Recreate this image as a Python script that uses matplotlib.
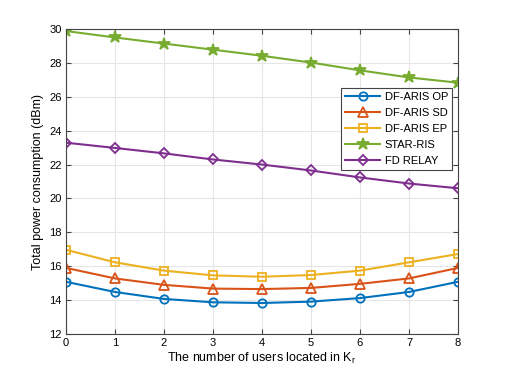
import matplotlib
matplotlib.use("Agg")
import matplotlib.pyplot as plt

plt.rcParams['font.family'] = ['Liberation Sans', 'DejaVu Sans']
plt.rcParams['mathtext.fontset'] = 'custom'
plt.rcParams['mathtext.rm'] = 'Liberation Sans'
plt.rcParams['mathtext.it'] = 'Liberation Sans'

x = [0, 1, 2, 3, 4, 5, 6, 7, 8]
op = [15.08, 14.48, 14.07, 13.87, 13.83, 13.91, 14.12, 14.48, 15.08]
sd = [15.9, 15.28, 14.9, 14.68, 14.65, 14.72, 14.96, 15.28, 15.9]
ep = [16.97, 16.23, 15.74, 15.46, 15.38, 15.48, 15.74, 16.23, 16.72]
star = [29.88, 29.5, 29.14, 28.78, 28.42, 28.02, 27.56, 27.14, 26.83]
fd = [23.29, 22.98, 22.66, 22.3, 22.0, 21.65, 21.24, 20.88, 20.6]
labels = ['DF-ARIS OP', 'DF-ARIS SD', 'DF-ARIS EP', 'STAR-RIS', 'FD RELAY']
colors = ['#0072BD', '#D95319', '#EDB120', '#77AC30', '#7E2F8E']
markers = ['o', '^', 's', '*', 'D']
msizes = [6, 6.5, 6, 9, 5.5]

fig = plt.figure(figsize=(5.06, 3.79), dpi=100)
ax = fig.add_axes([66/506, 1-334/379, (458-66)/506, (334-29)/379])
for ys, lab, c, m, ms in zip([op, sd, ep, star, fd], labels, colors, markers, msizes):
    ax.plot(x, ys, color=c, marker=m, markersize=ms, markerfacecolor='none' if m != '*' else c,
            markeredgewidth=1.3, linewidth=1.5, label=lab)

ax.set_xlim(0, 8)
ax.set_ylim(12, 30)
ax.set_xticks(range(0, 9))
ax.set_yticks(range(12, 31, 2))
ax.grid(True, color='#e6e6e6', linewidth=0.8)
ax.set_axisbelow(True)
ax.tick_params(direction='in', top=True, right=True, labelsize=8, length=3.5, color='#444444', pad=3)
for s in ax.spines.values():
    s.set_color('#444444')
    s.set_linewidth(0.8)
ax.set_xlabel('The number of users located in K$_r$', fontsize=9, labelpad=2)
ax.set_ylabel('Total power consumption (dBm)', fontsize=9, labelpad=4)
leg = ax.legend(loc='upper right', bbox_to_anchor=(452/506, 1-88/379), bbox_transform=fig.transFigure,
                fontsize=8, frameon=True, fancybox=False, edgecolor='#444444', framealpha=1,
                borderpad=0.35, labelspacing=0.55, handlelength=3.2, handletextpad=0.4, borderaxespad=0)
leg.get_frame().set_linewidth(0.8)
fig.savefig('out.png', dpi=100)
